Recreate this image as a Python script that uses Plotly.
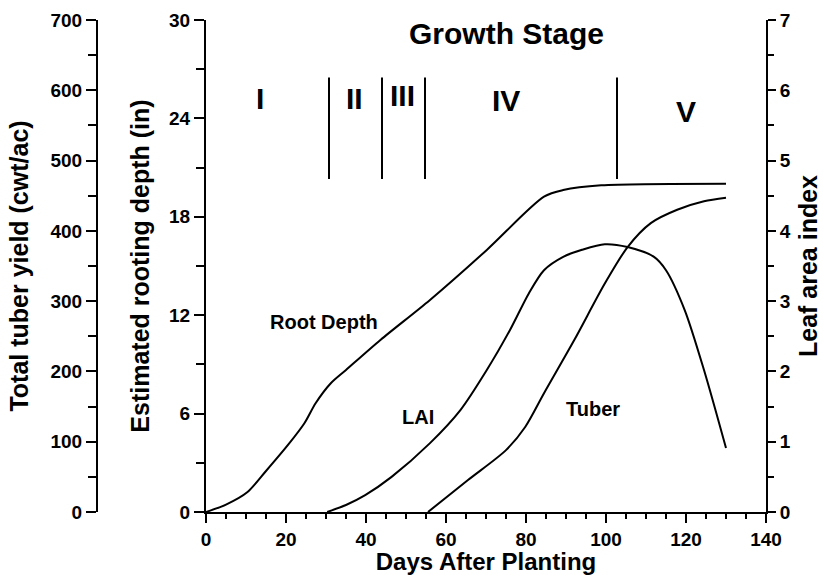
import plotly.graph_objects as go

# ---- data ----
root_days = [0, 5, 10.3, 15, 20.7, 24.6, 27.4, 31.2, 35, 43.6, 56, 70.2, 84.5, 89.3, 98.8, 130]
root_depth = [0, 0.45, 1.2, 2.5, 4.15, 5.41, 6.63, 7.85, 8.66, 10.49, 12.93, 15.98, 19.23, 19.63, 19.92, 20.02]

lai_days = [30.3, 35, 39.8, 46.4, 56, 63.6, 70.2, 76, 80.7, 84.5, 89.3, 94, 99.7, 105.4, 112, 115, 119.7, 124.5, 130]
lai_vals = [0, 0.1, 0.24, 0.50, 0.98, 1.45, 2.02, 2.59, 3.11, 3.44, 3.63, 3.73, 3.81, 3.77, 3.63, 3.44, 2.87, 2.02, 0.91]

tuber_days = [55.5, 65.5, 75, 79.8, 84.5, 92.1, 99.7, 105.4, 111.2, 117.8, 124.5, 130]
tuber_yield = [0, 45.5, 88, 121, 169, 245, 325, 377, 411, 430, 442, 447]

stage_bounds = [30.75, 44, 54.75, 102.75]
stage_line_bottom = 20.3
stage_line_top = 26.5
stage_names = ["I", "II", "III", "IV", "V"]
stage_label_x = [13.5, 37, 49, 75, 120]
stage_label_y = [25.2, 25.2, 25.4, 25.1, 24.4]

curve_labels = ["Root Depth", "LAI", "Tuber"]
curve_label_x = [29.5, 52.9, 96.7]
curve_label_y = [11.57, 5.77, 6.26]

W, H = 823, 575
FONT = "Liberation Sans"
BLK = "black"

fig = go.Figure()
line = dict(color=BLK, width=2, shape="spline", smoothing=0.8)
fig.add_trace(go.Scatter(x=root_days, y=root_depth, mode="lines", line=line,
                         yaxis="y", cliponaxis=False, showlegend=False))
fig.add_trace(go.Scatter(x=lai_days, y=lai_vals, mode="lines", line=line,
                         yaxis="y2", cliponaxis=False, showlegend=False))
fig.add_trace(go.Scatter(x=tuber_days, y=tuber_yield, mode="lines", line=line,
                         yaxis="y3", cliponaxis=False, showlegend=False))

for b in stage_bounds:
    fig.add_shape(type="line", xref="x", yref="y", x0=b, x1=b,
                  y0=stage_line_bottom, y1=stage_line_top,
                  line=dict(color=BLK, width=2))

for name, sx, sy in zip(stage_names, stage_label_x, stage_label_y):
    fig.add_annotation(x=sx, y=sy, xref="x", yref="y", text=name, showarrow=False,
                       font=dict(family=FONT, size=30, color=BLK, weight="bold"))

for name, cx, cy in zip(curve_labels, curve_label_x, curve_label_y):
    fig.add_annotation(x=cx, y=cy, xref="x", yref="y", text=name, showarrow=False,
                       font=dict(family=FONT, size=20, color=BLK, weight="bold"))

fig.add_annotation(x=75.2, y=29.2, xref="x", yref="y", text="Growth Stage", showarrow=False,
                   font=dict(family=FONT, size=30, color=BLK, weight="bold"))

x0p, x1p = 206 / W, 766 / W
tickfont = dict(family=FONT, size=19, color=BLK, weight="bold")
titlefont = dict(family=FONT, size=25, color=BLK, weight="bold")

common = dict(showgrid=False, zeroline=False, showline=True, linecolor=BLK, linewidth=2,
              ticks="outside", tickcolor=BLK, tickwidth=2,
              tickfont=tickfont, automargin=False)

fig.update_layout(
    width=W, height=H,
    margin=dict(l=0, r=0, t=20, b=63),
    plot_bgcolor="white", paper_bgcolor="white",
    showlegend=False,
    xaxis=dict(domain=[x0p, x1p], range=[0, 140], dtick=20, tick0=0, ticklen=9,
               title=dict(text="Days After Planting", font=dict(family=FONT, size=24, color=BLK, weight="bold"), standoff=2),
               minor=dict(dtick=5, ticks="outside", ticklen=5, tickwidth=2, tickcolor=BLK),
               **common),
    yaxis=dict(range=[0, 30], dtick=6, tick0=0, side="left", anchor="x", ticklen=10,
               title=dict(text="Estimated rooting depth (in)", font=titlefont, standoff=12),
               minor=dict(dtick=3, ticks="outside", ticklen=8, tickwidth=2, tickcolor=BLK),
               **common),
    yaxis2=dict(range=[0, 7], dtick=1, tick0=0, side="right", anchor="x", overlaying="y", ticklen=8,
                title=dict(text="Leaf area index", font=titlefont, standoff=10),
                minor=dict(dtick=0.5, ticks="outside", ticklen=6, tickwidth=2, tickcolor=BLK),
                **common),
    yaxis3=dict(range=[0, 700], dtick=100, tick0=0, side="left", anchor="free",
                position=97 / W, overlaying="y", ticklen=10,
                title=dict(text="Total tuber yield (cwt/ac)", font=titlefont, standoff=14),
                minor=dict(dtick=50, ticks="outside", ticklen=8, tickwidth=2, tickcolor=BLK),
                **common),
)

fig.write_html("out.html", config={"displayModeBar": False},
               post_script="document.body.style.margin='0';")
